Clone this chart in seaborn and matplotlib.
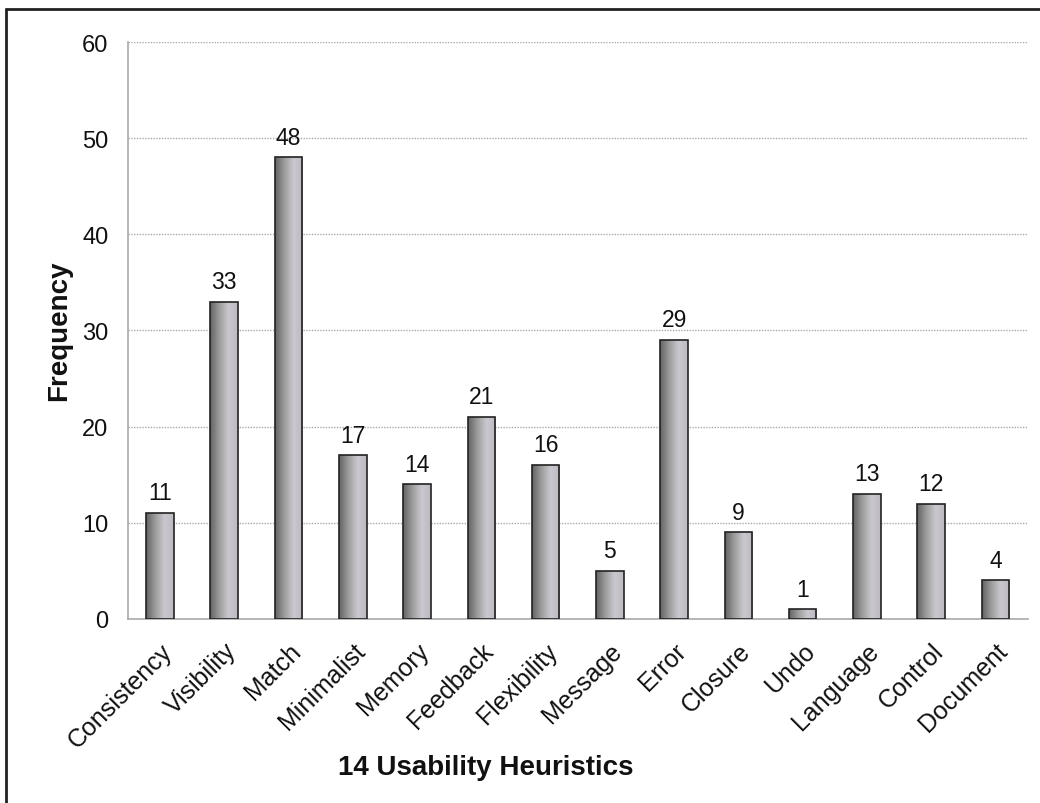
import numpy as np
import pandas as pd
import seaborn as sns
import matplotlib.pyplot as plt
from matplotlib.colors import LinearSegmentedColormap
from matplotlib.lines import Line2D

heuristics = ["Consistency", "Visibility", "Match", "Minimalist", "Memory",
              "Feedback", "Flexibility", "Message", "Error", "Closure",
              "Undo", "Language", "Control", "Document"]
frequency = [11, 33, 48, 17, 14, 21, 16, 5, 29, 9, 1, 13, 12, 4]

df = pd.DataFrame({"heuristic": heuristics, "frequency": frequency})

sns.set_theme(style="white")
plt.rcParams["font.family"] = ["Liberation Sans", "DejaVu Sans"]

fig = plt.figure(figsize=(10.4, 8.04), dpi=100)
ax = fig.add_axes([0.123, 0.229, 0.865, 0.7175])

sns.barplot(data=df, x="heuristic", y="frequency", ax=ax, width=0.43,
            color="#999999", edgecolor="#222222", linewidth=1.2, zorder=3)

# grey gradient fill, clipped to each bar
cmap = LinearSegmentedColormap.from_list("bar", ["#626262", "#9c9c9c", "#cac8ce", "#bcbac0"])
grad = np.linspace(0, 1, 256).reshape(1, -1)
for patch in ax.patches:
    x0, y0 = patch.get_x(), patch.get_y()
    w, h = patch.get_width(), patch.get_height()
    im = ax.imshow(grad, cmap=cmap, aspect="auto", extent=(x0, x0 + w, y0, y0 + h),
                   zorder=3.5, interpolation="bicubic")
    im.set_clip_path(patch)
    patch.set_facecolor("none")
    patch.set_zorder(4)

for i, v in enumerate(frequency):
    ax.text(i, v + 0.9, str(v), ha="center", va="bottom", fontsize=16.5, color="#111111")

ax.set_xlim(-0.5, len(heuristics) - 0.5)
ax.set_ylim(0, 60)
ax.set_yticks(range(0, 61, 10))
ax.tick_params(axis="y", labelsize=17, pad=14, length=0, colors="#111111")
ax.tick_params(axis="x", labelsize=18, length=0, pad=14, colors="#111111")
plt.setp(ax.get_xticklabels(), rotation=45, ha="right", rotation_mode="anchor")

ax.yaxis.grid(True, linestyle=(0, (1, 1)), color="#aaaaaa", linewidth=1, zorder=0)
ax.set_axisbelow(True)
for side in ["top", "right"]:
    ax.spines[side].set_visible(False)
for side in ["left", "bottom"]:
    ax.spines[side].set_color("#aaaaaa")
    ax.spines[side].set_linewidth(1.2)

ax.set_xlabel("")
ax.set_ylabel("")
fig.text(0.467, 0.045, "14 Usability Heuristics", ha="center", va="center",
         fontsize=20, fontweight="bold", color="#111111")
fig.text(0.057, 0.588, "Frequency", ha="center", va="center", rotation=90,
         fontsize=20, fontweight="bold", color="#111111")

# outer frame (top and left edges visible)
fig.add_artist(Line2D([0.006, 1.0], [0.988, 0.988], color="#222222", linewidth=2,
                      transform=fig.transFigure))
fig.add_artist(Line2D([0.006, 0.006], [0.0, 0.988], color="#222222", linewidth=2,
                      transform=fig.transFigure))

fig.savefig("out.png", dpi=100)
